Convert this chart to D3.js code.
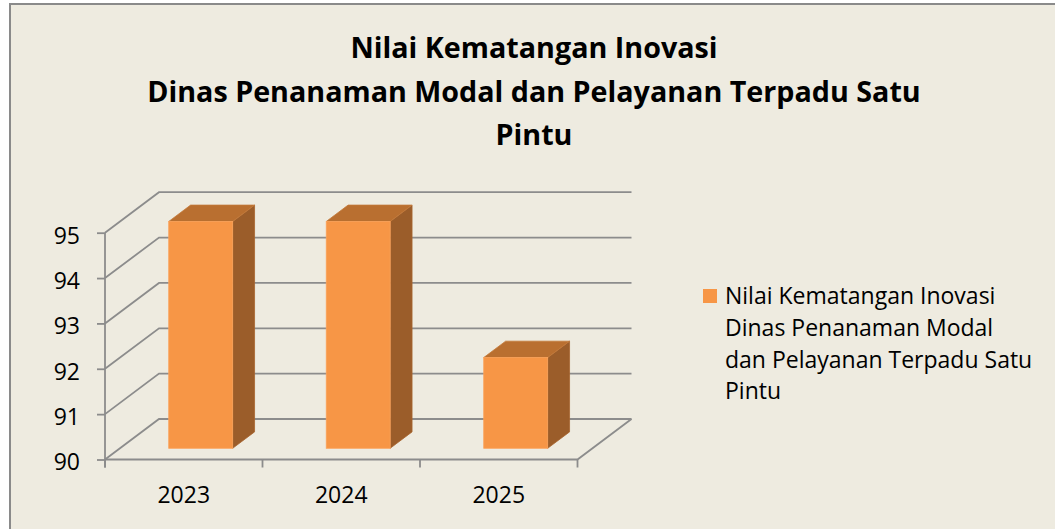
<!DOCTYPE html>
<html>
<head>
  <meta charset="utf-8">
  <title>Nilai Kematangan Inovasi</title>
  <script src="https://cdn.jsdelivr.net/npm/d3@7"></script>
  <style>
    body { margin: 0; background: #fff; }
    text { font-family: "Open Sans", sans-serif; fill: #000; }
    .grid { stroke: #8c8c8c; stroke-width: 1.8px; fill: none; }
  </style>
</head>
<body>
<svg id="chart" width="1055" height="529"></svg>

<script type="text/javascript">
  // data
  var years = ['2023', '2024', '2025'];
  var values = [95, 95, 92];
  var yTicks = [90, 91, 92, 93, 94, 95];
  var titleLines = ['Nilai Kematangan Inovasi', 'Dinas Penanaman Modal dan Pelayanan Terpadu Satu', 'Pintu'];
  var legendLines = ['Nilai Kematangan Inovasi', 'Dinas Penanaman Modal', 'dan Pelayanan Terpadu Satu', 'Pintu'];

  var svg = d3.select('#chart');

  // chart area background + border
  svg.append('rect')
    .attr('x', 10).attr('y', 4)
    .attr('width', 1100).attr('height', 600)
    .attr('fill', '#eeebe0')
    .attr('stroke', '#8a8a8a')
    .attr('stroke-width', 2);

  // title
  svg.append('g').selectAll('text')
    .data(titleLines)
    .enter()
    .append('text')
    .attr('x', 534)
    .attr('y', (d, i) => 58 + i * 43.5)
    .attr('text-anchor', 'middle')
    .style('font-weight', 'bold')
    .style('font-size', '28.7px')
    .text(d => d);

  // 3d depth of the plot box
  var depthX = 54, depthY = -40.5;

  var x = d3.scaleBand()
    .domain(years)
    .range([105, 577.5]);

  var y = d3.scaleLinear()
    .domain([90, 95])
    .range([459.5, 232.7]);

  var grid = svg.append('g');

  // side wall diagonals + back wall gridlines
  yTicks.forEach(t => {
    grid.append('path')
      .attr('class', 'grid')
      .attr('d', d3.line()([
        [x.range()[0], y(t)],
        [x.range()[0] + depthX, y(t) + depthY],
        [x.range()[1] + depthX, y(t) + depthY]
      ]));
  });

  // floor front and right edges
  grid.append('path')
    .attr('class', 'grid')
    .attr('d', d3.line()([
      [x.range()[0], y(90)],
      [x.range()[1], y(90)],
      [x.range()[1] + depthX, y(90) + depthY]
    ]));

  // y axis
  var yAxis = svg.append('g')
    .attr('transform', 'translate(' + x.range()[0] + ',0)')
    .call(d3.axisLeft(y).tickValues(yTicks).tickSize(8).tickPadding(17).tickFormat(d3.format('d')));
  yAxis.select('.domain').remove();
  yAxis.append('line')
    .attr('x1', 0).attr('x2', 0)
    .attr('y1', y(95)).attr('y2', y(90) + 8)
    .attr('stroke', '#8c8c8c').attr('stroke-width', 1.8);
  yAxis.selectAll('.tick line').attr('stroke', '#8c8c8c').attr('stroke-width', 1.8);
  yAxis.selectAll('.tick text')
    .attr('dy', '0.45em')
    .style('font-size', '23px')
    .style('font-family', '"Open Sans", sans-serif')
    .attr('fill', '#000');

  // x axis (ticks at band edges)
  var xAxis = svg.append('g');
  var edges = years.map(d => x(d)).concat([x.range()[1]]);
  xAxis.selectAll('line')
    .data(edges)
    .enter()
    .append('line')
    .attr('x1', d => d).attr('x2', d => d)
    .attr('y1', y(90)).attr('y2', y(90) + 8)
    .attr('stroke', '#8c8c8c').attr('stroke-width', 1.8);
  xAxis.selectAll('text')
    .data(years)
    .enter()
    .append('text')
    .attr('x', d => x(d) + x.bandwidth() / 2)
    .attr('y', 503)
    .attr('text-anchor', 'middle')
    .style('font-size', '23px')
    .text(d => d);

  // bars
  var f0 = 0.277, f1 = 0.682;
  var barW = x.bandwidth() * 0.406;
  var bars = svg.append('g');

  years.forEach((yr, i) => {
    var x0 = x(yr) + (x.bandwidth() - barW) / 2 + depthX * f0 + 2;
    var x1 = x0 + barW;
    var yTop = y(values[i]) + depthY * f0;
    var yBot = y(90) + depthY * f0;
    var ddx = depthX * (f1 - f0), ddy = depthY * (f1 - f0);

    // right side
    bars.append('path')
      .attr('d', d3.line()([[x1, yTop], [x1 + ddx, yTop + ddy], [x1 + ddx, yBot + ddy], [x1, yBot]]) + 'Z')
      .attr('fill', '#9b5d2a')
      .attr('stroke', '#a8652f').attr('stroke-width', 0.8);
    // top
    bars.append('path')
      .attr('d', d3.line()([[x0, yTop], [x0 + ddx, yTop + ddy], [x1 + ddx, yTop + ddy], [x1, yTop]]) + 'Z')
      .attr('fill', '#b96f30')
      .attr('stroke', '#c47a3a').attr('stroke-width', 0.8);
    // front
    bars.append('rect')
      .attr('x', x0).attr('y', yTop)
      .attr('width', barW).attr('height', yBot - yTop)
      .attr('fill', '#f79646')
      .attr('stroke', '#fba25a').attr('stroke-width', 0.8);
  });

  // legend
  var legend = svg.append('g');
  legend.append('rect')
    .attr('x', 703).attr('y', 289)
    .attr('width', 14).attr('height', 14)
    .attr('fill', '#f79646');
  legend.selectAll('text')
    .data(legendLines)
    .enter()
    .append('text')
    .attr('x', 725)
    .attr('y', (d, i) => 304 + i * 31.8)
    .style('font-size', '23px')
    .text(d => d);
</script>
</body>
</html>
